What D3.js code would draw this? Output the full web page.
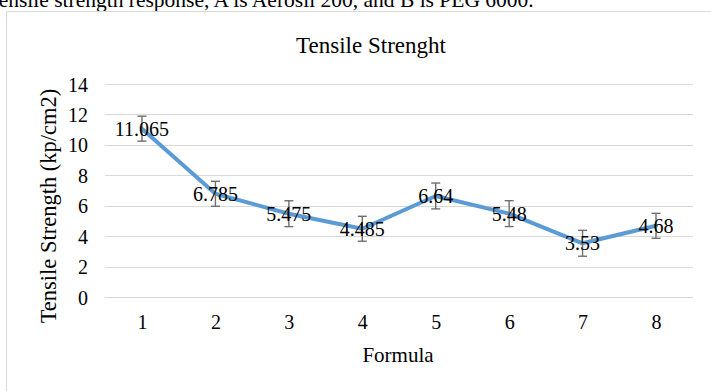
<!DOCTYPE html>
<html>
<head>
<meta charset="utf-8">
<script src="https://cdn.jsdelivr.net/npm/d3@7"></script>
<style>
  html, body { margin: 0; padding: 0; background: #fff; }
  svg { display: block; }
  text { font-family: "Liberation Serif", "Times New Roman", serif; fill: #000; }
</style>
</head>
<body>
<svg id="chart" width="711" height="391"></svg>
<script>
const categories = ["1", "2", "3", "4", "5", "6", "7", "8"];
const values = [11.065, 6.785, 5.475, 4.485, 6.64, 5.48, 3.53, 4.68];
const errors = [0.82, 0.82, 0.85, 0.82, 0.85, 0.85, 0.85, 0.82];
const yTicks = [0, 2, 4, 6, 8, 10, 12, 14];
const labels = ["11.065", "6.785", "5.475", "4.485", "6.64", "5.48", "3.53", "4.68"];

const svg = d3.select("#chart");
const W = 711, H = 391;

// caption fragment cut at top
svg.append("text")
  .attr("x", -13).attr("y", 7)
  .attr("font-size", 21.5)
  .text("Tensile strength response, A is Aerosil 200, and B is PEG 6000.");

// chart area border
svg.append("path")
  .attr("d", `M6.5,${H} V11.5 H${W}`)
  .attr("fill", "none").attr("stroke", "#d9d9d9").attr("stroke-width", 1);

const x = d3.scalePoint().domain(categories).range([142, 656]);
const y = d3.scaleLinear().domain([0, 14]).range([297, 84]);

// gridlines
svg.append("g").selectAll("line").data(yTicks).join("line")
  .attr("x1", 105).attr("x2", 693)
  .attr("y1", d => Math.round(y(d)) + 0.5).attr("y2", d => Math.round(y(d)) + 0.5)
  .attr("stroke", "#d9d9d9").attr("stroke-width", 1);

// y axis labels
const yAxis = d3.axisLeft(y).tickValues(yTicks).tickSize(0).tickPadding(0);
const gy = svg.append("g").attr("transform", "translate(88,0)").call(yAxis);
gy.select(".domain").remove();
gy.selectAll("text").attr("font-size", 20).attr("font-family", "Liberation Serif").attr("fill", "#000").attr("dy", "0.35em");

// x axis labels
const xAxis = d3.axisBottom(x).tickSize(0).tickPadding(0);
const gx = svg.append("g").attr("transform", "translate(0,315)").call(xAxis);
gx.select(".domain").remove();
gx.selectAll("text").attr("font-size", 20).attr("font-family", "Liberation Serif").attr("fill", "#000").attr("dy", "0.71em");

// title
svg.append("text").attr("x", 371).attr("y", 53)
  .attr("text-anchor", "middle").attr("font-size", 23)
  .text("Tensile Strenght");

// axis titles
svg.append("text").attr("x", 398).attr("y", 362)
  .attr("text-anchor", "middle").attr("font-size", 21)
  .text("Formula");
svg.append("text")
  .attr("transform", "translate(56,206) rotate(-90)")
  .attr("text-anchor", "middle").attr("font-size", 22.5)
  .text("Tensile Strength (kp/cm2)");

// line
const line = d3.line().x((d, i) => x(categories[i])).y(d => y(d));
svg.append("path").datum(values)
  .attr("d", line)
  .attr("fill", "none").attr("stroke", "#5b9bd5").attr("stroke-width", 4)
  .attr("stroke-linejoin", "round").attr("stroke-linecap", "round");

// error bars
const eb = svg.append("g").attr("stroke", "#6f6f6f").attr("stroke-width", 1.4).attr("fill", "none");
values.forEach((v, i) => {
  const cx = x(categories[i]);
  const y1 = y(v + errors[i]), y2 = y(v - errors[i]);
  eb.append("line").attr("x1", cx).attr("x2", cx).attr("y1", y1).attr("y2", y2);
  eb.append("line").attr("x1", cx - 4.5).attr("x2", cx + 4.5).attr("y1", y1).attr("y2", y1);
  eb.append("line").attr("x1", cx - 4.5).attr("x2", cx + 4.5).attr("y1", y2).attr("y2", y2);
});

// data labels
svg.append("g").selectAll("text").data(values).join("text")
  .attr("x", (d, i) => x(categories[i]))
  .attr("y", d => y(d))
  .attr("dy", "0.35em")
  .attr("text-anchor", "middle")
  .attr("font-size", 20)
  .text((d, i) => labels[i]);
</script>
</body>
</html>
